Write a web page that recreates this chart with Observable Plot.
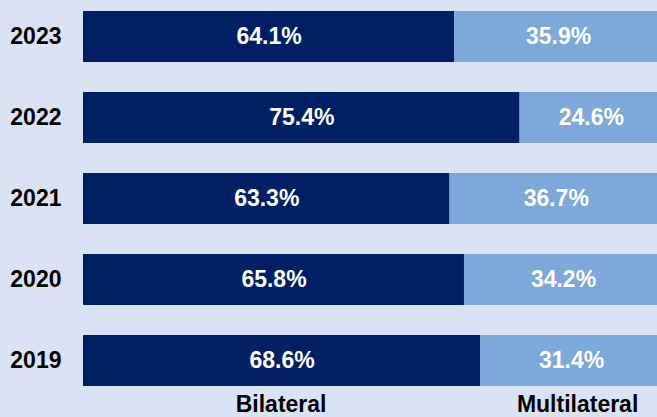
<!DOCTYPE html>
<html>
<head>
<meta charset="utf-8">
<script src="https://cdn.jsdelivr.net/npm/d3@7"></script>
<script src="https://cdn.jsdelivr.net/npm/@observablehq/plot@0.6"></script>
<style>
  html, body { margin: 0; padding: 0; background: #dae3f3; overflow: hidden; }
  #chart svg { display: block; }
</style>
</head>
<body>
<div id="chart"></div>
<script>
const years = ["2023", "2022", "2021", "2020", "2019"];
const series = ["Bilateral", "Multilateral"];
const bilateral = [64.1, 75.4, 63.3, 65.8, 68.6];
const multilateral = [35.9, 24.6, 36.7, 34.2, 31.4];
const colors = ["#001f64", "#7ea7da"];

const rows = [];
years.forEach((y, i) => {
  rows.push({year: y, type: series[0], value: bilateral[i], x1: 0, x2: bilateral[i]});
  rows.push({year: y, type: series[1], value: multilateral[i], x1: bilateral[i], x2: bilateral[i] + multilateral[i]});
});
const last = rows.filter(d => d.year === years[years.length - 1]);

const font = "'Liberation Sans', Arial, sans-serif";

const legendText = (type, dx) => Plot.text(last.filter(d => d.type === type), {
  x: d => (d.x1 + d.x2) / 2,
  frameAnchor: "bottom",
  lineAnchor: "bottom",
  text: "type",
  dx,
  dy: -6,
  fill: "#000",
  fontSize: 23,
  fontWeight: "bold"
});

const chart = Plot.plot({
  width: 657,
  height: 417,
  marginLeft: 83,
  marginRight: 0,
  marginTop: 0,
  marginBottom: 0,
  style: {background: "#dae3f3", fontFamily: font, fontWeight: "bold", fontSize: "23px", color: "#000", overflow: "hidden"},
  x: {domain: [0, 100], range: [83, 662], axis: null},
  y: {domain: years, range: [10, 386], paddingInner: 0.372, paddingOuter: 0, label: null},
  color: {domain: series, range: colors},
  marks: [
    Plot.axisY({tickSize: 0, tickPadding: 22, fontSize: 23, fontWeight: "bold", fill: "#000", label: null}),
    Plot.barX(rows, {y: "year", x1: "x1", x2: "x2", fill: "type"}),
    Plot.text(rows, {
      y: "year",
      x: d => (d.x1 + d.x2) / 2,
      text: d => d.value.toFixed(1) + "%",
      fill: "white",
      fontSize: 23,
      fontWeight: "bold"
    }),
    legendText(series[0], -1),
    legendText(series[1], 6)
  ]
});
document.getElementById("chart").appendChild(chart);
</script>
</body>
</html>
